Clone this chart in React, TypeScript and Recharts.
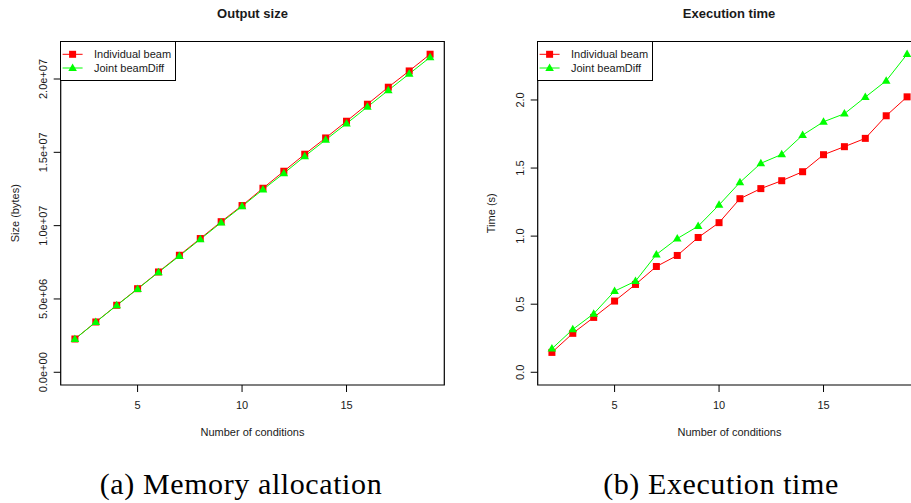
import { LineChart, Line, XAxis, YAxis, ReferenceArea, Legend, Label } from 'recharts'

const conditions = [2, 3, 4, 5, 6, 7, 8, 9, 10, 11, 12, 13, 14, 15, 16, 17, 18, 19]
const sizeIndividual = [
  2.27e6, 3.43e6, 4.57e6, 5.7e6, 6.84e6, 7.98e6, 9.12e6, 10.27e6, 11.37e6, 12.55e6, 13.71e6,
  14.87e6, 15.98e6, 17.12e6, 18.28e6, 19.44e6, 20.55e6, 21.69e6,
]
const sizeJoint = [
  2.27e6, 3.42e6, 4.56e6, 5.68e6, 6.82e6, 7.93e6, 9.07e6, 10.21e6, 11.32e6, 12.46e6, 13.57e6,
  14.73e6, 15.85e6, 16.96e6, 18.1e6, 19.23e6, 20.35e6, 21.48e6,
]
const timeIndividual = [
  0.146, 0.286, 0.403, 0.523, 0.645, 0.777, 0.858, 0.99, 1.099, 1.275, 1.349, 1.407, 1.473, 1.598,
  1.657, 1.718, 1.884, 2.023,
]
const timeJoint = [
  0.173, 0.315, 0.43, 0.596, 0.669, 0.865, 0.982, 1.073, 1.229, 1.395, 1.535, 1.6, 1.742, 1.84,
  1.899, 2.021, 2.141, 2.336,
]
const xTicks = [5, 10, 15]
const sizeTicks = [0, 5e6, 1e7, 1.5e7, 2e7]
const timeTicks = [0, 0.5, 1, 1.5, 2]
const seriesNames = ['Individual beam', 'Joint beamDiff']

const FONT = '"Liberation Sans", Arial, Helvetica, sans-serif'
const RED = '#ff0000'
const GREEN = '#00ff00'
const INK = '#1a1a1a'

// R style axis padding: 4% each side
const pad = (lo: number, hi: number): [number, number] => {
  const d = (hi - lo) * 0.04
  return [lo - d, hi + d]
}

const sci = (v: number) => {
  const [m, e] = v.toExponential(1).split('e')
  const n = Number(e)
  return `${m}e${n < 0 ? '-' : '+'}${String(Math.abs(n)).padStart(2, '0')}`
}

const SquareDot = (props: any) => {
  const { cx, cy, index } = props
  if (cx == null || cy == null) return null
  return <rect key={`s-${index}`} x={cx - 3.5} y={cy - 3.5} width={7} height={7} fill={RED} />
}

const TriangleDot = (props: any) => {
  const { cx, cy, index } = props
  if (cx == null || cy == null) return null
  return (
    <polygon
      key={`t-${index}`}
      points={`${cx},${cy - 4.6} ${cx - 4.3},${cy + 2.9} ${cx + 4.3},${cy + 2.9}`}
      fill={GREEN}
    />
  )
}

const makeYTick = (fmt: (v: number) => string) => (props: any) => {
  const { x, y, payload } = props
  return (
    <text
      x={x}
      y={y}
      transform={`rotate(-90, ${x}, ${y})`}
      textAnchor="middle"
      fontSize={11}
      fontFamily={FONT}
      fill={INK}
    >
      {fmt(payload.value)}
    </text>
  )
}

function LegendBox() {
  return (
    <div
      style={{
        width: 116,
        height: 40,
        boxSizing: 'border-box',
        border: '1.2px solid #000',
        background: '#fff',
      }}
    >
      <svg width={114} height={38} style={{ display: 'block' }}>
        <line x1={1.6} x2={21.6} y1={12.3} y2={12.3} stroke={RED} strokeWidth={1} />
        <rect x={8.1} y={8.8} width={7} height={7} fill={RED} />
        <text x={33} y={16.3} fontSize={11} fontFamily={FONT} fill={INK}>
          {seriesNames[0]}
        </text>
        <line x1={1.6} x2={21.6} y1={26} y2={26} stroke={GREEN} strokeWidth={1} />
        <polygon points="11.6,21.4 7.3,28.9 15.9,28.9" fill={GREEN} />
        <text x={33} y={30} fontSize={11} fontFamily={FONT} fill={INK}>
          {seriesNames[1]}
        </text>
      </svg>
    </div>
  )
}

type PanelProps = {
  left: number
  title: string
  yLabel: string
  yLabelGap: number
  a: number[]
  b: number[]
  yTicks: number[]
  yFmt: (v: number) => string
}

function Panel({ left, title, yLabel, yLabelGap, a, b, yTicks, yFmt }: PanelProps) {
  const rows = conditions.map((c, i) => ({ c, a: a[i], b: b[i] }))
  const xDomain = pad(conditions[0], conditions[conditions.length - 1])
  const yDomain = pad(0, Math.max(...a, ...b))
  const boxLeft = 60.7
  const boxW = 383.6
  return (
    <div style={{ position: 'absolute', left, top: 0, width: 455, height: 460 }}>
      <div
        style={{
          position: 'absolute',
          left: boxLeft,
          width: boxW,
          top: 6,
          textAlign: 'center',
          fontFamily: FONT,
          fontWeight: 'bold',
          fontSize: 13,
          color: INK,
          whiteSpace: 'nowrap',
        }}
      >
        {title}
      </div>
      <LineChart
        width={455}
        height={460}
        data={rows}
        margin={{ top: 41.5, right: 455 - boxLeft - boxW, bottom: 35, left: 0 }}
      >
        <XAxis
          dataKey="c"
          type="number"
          domain={xDomain}
          ticks={xTicks}
          height={40}
          axisLine={false}
          tickSize={7}
          tickMargin={9}
          tickLine={{ stroke: '#000', strokeWidth: 1 }}
          tick={{ fontSize: 11, fontFamily: FONT, fill: INK }}
          allowDataOverflow
        >
          <Label
            content={(p: any) => {
              const vb = p.viewBox
              return (
                <text
                  x={vb.x + vb.width / 2}
                  y={vb.y + 51}
                  textAnchor="middle"
                  fontSize={11}
                  fontFamily={FONT}
                  fill={INK}
                >
                  Number of conditions
                </text>
              )
            }}
          />
        </XAxis>
        <YAxis
          type="number"
          domain={yDomain}
          ticks={yTicks}
          width={boxLeft}
          axisLine={false}
          tickSize={7}
          tickMargin={7}
          tickLine={{ stroke: '#000', strokeWidth: 1 }}
          tick={makeYTick(yFmt)}
          allowDataOverflow
        >
          <Label
            content={(p: any) => {
              const vb = p.viewBox
              const x = vb.x + vb.width - yLabelGap
              const y = vb.y + vb.height / 2
              return (
                <text
                  x={x}
                  y={y}
                  transform={`rotate(-90, ${x}, ${y})`}
                  textAnchor="middle"
                  fontSize={11}
                  fontFamily={FONT}
                  fill={INK}
                >
                  {yLabel}
                </text>
              )
            }}
          />
        </YAxis>
        <ReferenceArea
          x1={xDomain[0]}
          x2={xDomain[1]}
          y1={yDomain[0]}
          y2={yDomain[1]}
          fill="none"
          fillOpacity={0}
          stroke="#000"
          strokeWidth={1.2}
          ifOverflow="visible"
        />
        <Legend
          layout="vertical"
          align="center"
          verticalAlign="middle"
          wrapperStyle={{ left: boxLeft - 0.5, top: 41, width: 116, height: 40 }}
          content={() => <LegendBox />}
        />
        <Line
          type="linear"
          dataKey="a"
          name={seriesNames[0]}
          stroke={RED}
          strokeWidth={1}
          dot={SquareDot}
          activeDot={false}
          isAnimationActive={false}
        />
        <Line
          type="linear"
          dataKey="b"
          name={seriesNames[1]}
          stroke={GREEN}
          strokeWidth={1}
          dot={TriangleDot}
          activeDot={false}
          isAnimationActive={false}
        />
      </LineChart>
    </div>
  )
}

const captionStyle = {
  position: 'absolute' as const,
  top: 467,
  fontFamily: '"Liberation Serif", "Times New Roman", serif',
  fontSize: 30,
  letterSpacing: 0.6,
  color: '#000',
  whiteSpace: 'nowrap' as const,
  transform: 'translateX(-50%)',
}

export default function App() {
  return (
    <div
      style={{
        position: 'absolute',
        left: 0,
        top: 0,
        width: 911,
        height: 503,
        overflow: 'hidden',
        background: '#fff',
      }}
    >
      <Panel
        left={0}
        title="Output size"
        yLabel="Size (bytes)"
        yLabelGap={41.7}
        a={sizeIndividual}
        b={sizeJoint}
        yTicks={sizeTicks}
        yFmt={sci}
      />
      <Panel
        left={476.6}
        title="Execution time"
        yLabel="Time (s)"
        yLabelGap={42.3}
        a={timeIndividual}
        b={timeJoint}
        yTicks={timeTicks}
        yFmt={(v) => v.toFixed(1)}
      />
      <div style={{ ...captionStyle, left: 241 }}>(a) Memory allocation</div>
      <div style={{ ...captionStyle, left: 721 }}>(b) Execution time</div>
    </div>
  )
}
